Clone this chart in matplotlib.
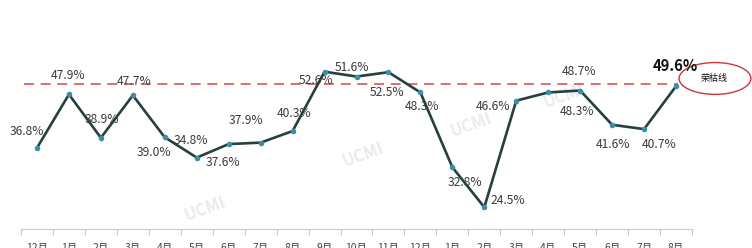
import matplotlib.pyplot as plt
from matplotlib.patches import Ellipse

plt.rcParams['font.family'] = ['Noto Sans CJK SC', 'DejaVu Sans']

months = ['12月', '1月', '2月', '3月', '4月', '5月', '6月', '7月', '8月', '9月', '10月',
          '11月', '12月', '1月', '2月', '3月', '4月', '5月', '6月', '7月', '8月']
values = [36.8, 47.9, 38.9, 47.7, 39.0, 34.8, 37.6, 37.9, 40.3, 52.6, 51.6,
          52.5, 48.3, 32.8, 24.5, 46.6, 48.3, 48.7, 41.6, 40.7, 49.6]
threshold = 50.0
threshold_label = '荣枯线'
watermark = 'UCMI'

# label offsets in pixels (dx, dy)
offsets = [(-10, 16), (-1, 19), (1, 18), (1, 14), (-11, -15), (-6, 17), (-6, -18),
           (-15, 22), (1, 18), (-9, -9), (-5, 9), (-1, -20), (2, -14), (13, -15),
           (23, 7), (-23, -6), (29, -19), (-1, 19), (1, -20), (15, -15), (-1, 20)]

fig = plt.figure(figsize=(7.52, 2.48), dpi=100)
ax = fig.add_axes([21 / 752, 19 / 248, 671 / 752, 193 / 248])
x = list(range(len(values)))

ax.plot(x, values, color='#263f3f', lw=1.9, zorder=3)
ax.scatter(x, values, s=9, color='#3a8fa8', zorder=4)
ax.plot([-0.4, 20.05], [threshold, threshold], color='#d85555', lw=1.2,
        dashes=(6, 4), zorder=2)

for i, (v, (dx, dy)) in enumerate(zip(values, offsets)):
    last = i == len(values) - 1
    ax.annotate(f'{v:.1f}%', (i, v), xytext=(dx * 0.72, dy * 0.72),
                textcoords='offset points', ha='center', va='center',
                fontsize=10.7 if last else 8.7,
                fontweight='bold' if last else 'normal',
                color='#111111' if last else '#3a3a3a', zorder=5)

# marker of the threshold line
ax.add_patch(Ellipse((21.22, 51.2), 2.25, 6.6, fill=False, edgecolor='#c8383a',
                     lw=1.0, clip_on=False))
ax.text(21.2, 51.2, threshold_label, fontsize=6.5, ha='center', va='center',
        color='#111111', clip_on=False)

for wx, wy in [(5.25, 24.2), (10.2, 35.4), (13.6, 41.5), (16.5, 47.5)]:
    ax.text(wx, wy, watermark, fontsize=12, fontweight='bold', color='#ebebeb',
            rotation=20, ha='center', va='center', zorder=1)

ax.set_xlim(-0.5, 20.5)
ax.set_ylim(20, 60)
ax.set_xticks(x)
ax.set_xticklabels(months, fontsize=7.5, color='#444444')
ax.set_xticks([i - 0.5 for i in range(len(values) + 1)], minor=True)
ax.tick_params(axis='x', which='major', length=0, pad=10)
ax.tick_params(axis='x', which='minor', length=4, color='#c8c8c8', width=0.8)
ax.set_yticks([])
for s in ['top', 'right', 'left']:
    ax.spines[s].set_visible(False)
ax.spines['bottom'].set_color('#c8c8c8')
ax.spines['bottom'].set_linewidth(0.8)

fig.savefig('out.png', dpi=100)
